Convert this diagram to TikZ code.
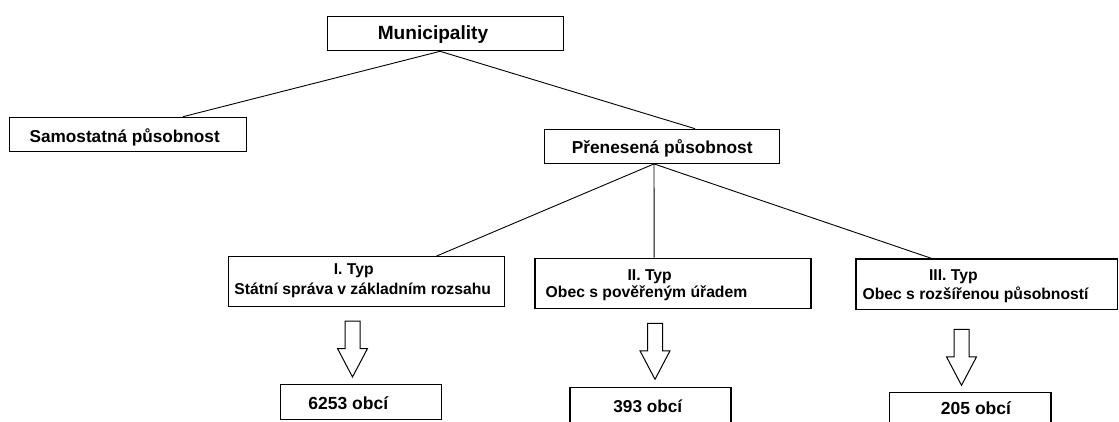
\documentclass[tikz,border=0pt]{standalone}
\usepackage{fontspec}
\setmainfont{Liberation Sans}
\usetikzlibrary{calc}
\begin{document}
\begin{tikzpicture}[x=1pt,y=-1pt,
  box/.style={draw=black, line width=1.2pt, fill=white, inner sep=0pt},
  conn/.style={draw=black, line width=0.9pt},
  lbl/.style={anchor=base, inner sep=0pt, text=black},
  blockdown/.pic={\draw[line width=1pt, fill=white] (-7.5,0) -- (7.5,0) -- (7.5,27.5) -- (15,27.5) -- (0,56) -- (-15,27.5) -- (-7.5,27.5) -- cycle;}
]
\useasboundingbox (0,0) rectangle (1119,421);
\fill[white] (0,0) rectangle (1119,421);
\clip (0,0) rectangle (1119,421);

% boxes
\node[box, minimum width=236pt, minimum height=34pt] (mun) at (445.3,33.7) {};
\node[box, minimum width=237pt, minimum height=34.4pt] (sam) at (128.2,134.5) {};
\node[box, minimum width=235pt, minimum height=34pt] (pre) at (661.8,146.3) {};
\node[box, minimum width=276pt, minimum height=50pt] (t1) at (366.3,281.7) {};
\node[box, minimum width=276pt, minimum height=50pt] (t2) at (673,283.3) {};
\node[box, minimum width=261.5pt, minimum height=50.5pt] (t3) at (986.75,284.25) {};
\node[box, minimum width=161pt, minimum height=35pt] (n1) at (361.2,401.8) {};
\node[box, minimum width=161pt, minimum height=36.7pt] (n2) at (650.5,405.65) {};
\node[box, minimum width=161.7pt, minimum height=35.3pt] (n3) at (970.15,410.35) {};

% connectors
\draw[conn] ($(mun.south west)!0.478!(mun.south east)$) -- ($(sam.north west)!0.73!(sam.north east)$);
\draw[conn] ($(mun.south west)!0.478!(mun.south east)$) -- ($(pre.north west)!0.641!(pre.north east)$);
\draw[conn] ($(pre.south west)!0.467!(pre.south east)$) -- ($(t1.north west)!0.753!(t1.north east)$);
\draw[conn] ($(pre.south west)!0.467!(pre.south east)$) -- ($(t2.north west)!0.432!(t2.north east)$);
\draw[conn] ($(pre.south west)!0.467!(pre.south east)$) -- ($(t3.north west)!0.29!(t3.north east)$);

% block arrows
\pic at (352.5,321) {blockdown};
\pic at (655,323.3) {blockdown};
\pic at (961.5,329.3) {blockdown};

% texts
\node[lbl, font=\fontsize{19.1}{22}\selectfont\bfseries] (tmun) at (433,39.3) {Municipality};
\node[lbl, font=\fontsize{17.2}{20}\selectfont\bfseries] (tsam) at (124.7,142.7) {Samostatná působnost};
\node[lbl, font=\fontsize{17.3}{20}\selectfont\bfseries] (tpre) at (662.2,153.3) {Přenesená působnost};
\node[lbl, font=\fontsize{15.7}{18}\selectfont\bfseries] (t1a) at (353.7,274.3) {I. Typ};
\node[lbl, font=\fontsize{15.7}{18}\selectfont\bfseries] (t1b) at (362.7,294) {Státní správa v základním rozsahu};
\node[lbl, font=\fontsize{15.7}{18}\selectfont\bfseries] (t2a) at (649.7,280) {II. Typ};
\node[lbl, font=\fontsize{15.7}{18}\selectfont\bfseries] (t2b) at (646.5,297.3) {Obec s pověřeným úřadem};
\node[lbl, font=\fontsize{15.7}{18}\selectfont\bfseries] (t3a) at (953.3,280.7) {III. Typ};
\node[lbl, font=\fontsize{15.7}{18}\selectfont\bfseries] (t3b) at (975.5,299.3) {Obec s rozšířenou působností};
\node[lbl, font=\fontsize{17.5}{20}\selectfont\bfseries] (tn1) at (348.3,409.3) {6253 obcí};
\node[lbl, font=\fontsize{17.2}{20}\selectfont\bfseries] (tn2) at (647.8,412.7) {393 obcí};
\node[lbl, font=\fontsize{17.5}{20}\selectfont\bfseries] (tn3) at (976,414.3) {205 obcí};
\end{tikzpicture}
\end{document}
